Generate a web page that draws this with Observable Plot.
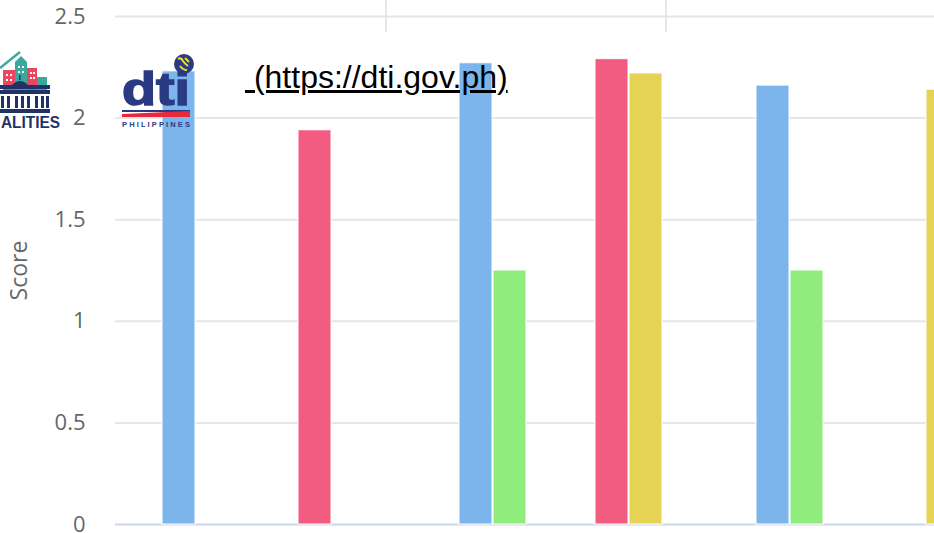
<!DOCTYPE html>
<html>
<head>
<meta charset="utf-8">
<script src="https://cdn.jsdelivr.net/npm/d3@7"></script>
<script src="https://cdn.jsdelivr.net/npm/@observablehq/plot@0.6"></script>
<style>
  html, body { margin: 0; padding: 0; background: #fff; }
  #wrap { position: relative; width: 934px; height: 533px; overflow: hidden; background: #fff; }
  #chart { position: absolute; left: 0; top: 0; width: 1006px; }
  #chart svg { max-width: none !important; }
  .vline { position: absolute; top: 0; width: 2px; height: 32px; background: #e6e6e6; }
  #link { position: absolute; left: 245px; top: 61px; font-family: "Liberation Sans", Arial, sans-serif;
          font-size: 32px; color: #000; text-decoration: underline; white-space: pre; line-height: 1; }
  .overlay { position: absolute; }
</style>
</head>
<body>
<div id="wrap">
  <div id="chart"></div>
  <div class="vline" style="left:385px"></div>
  <div class="vline" style="left:665px"></div>
  <svg class="overlay" style="left:0;top:45px" width="70" height="90" viewBox="0 0 70 90">
    <line x1="0" y1="23" x2="20" y2="7" stroke="#3aa89a" stroke-width="2.5"/>
    <rect x="3" y="25" width="12" height="20" fill="#e8475f"/>
    <rect x="27" y="23" width="10" height="22" fill="#e8475f"/>
    <rect x="15" y="17" width="12" height="28" fill="#3aa89a"/>
    <polygon points="15,17 21,11 27,17" fill="#3aa89a"/>
    <rect x="37" y="32" width="10" height="13" fill="#3aa89a"/>
    <g fill="#fff">
      <rect x="6" y="29" width="2" height="2"/><rect x="10" y="29" width="2" height="2"/>
      <rect x="6" y="34" width="2" height="2"/><rect x="10" y="34" width="2" height="2"/>
      <rect x="18" y="21" width="2" height="2"/><rect x="22" y="21" width="2" height="2"/>
      <rect x="18" y="26" width="2" height="2"/><rect x="22" y="26" width="2" height="2"/>
      <rect x="30" y="27" width="2" height="2"/><rect x="33" y="27" width="2" height="2"/>
      <rect x="30" y="32" width="2" height="2"/><rect x="33" y="32" width="2" height="2"/>
    </g>
    <rect x="0" y="40" width="50" height="4" fill="#1f3466"/>
    <path d="M12 40 Q20 32 28 40 Z" fill="#1f3466"/>
    <rect x="19" y="30" width="1.5" height="5" fill="#1f3466"/>
    <rect x="0" y="45" width="50" height="4" fill="#1f3466"/>
    <g fill="#1f3466">
      <rect x="1" y="51" width="3" height="12"/><rect x="7" y="51" width="3" height="12"/>
      <rect x="15" y="51" width="3" height="12"/><rect x="21" y="51" width="3" height="12"/><rect x="27" y="51" width="3" height="12"/>
      <rect x="35" y="51" width="3" height="12"/><rect x="41" y="51" width="3" height="12"/><rect x="46" y="51" width="3" height="12"/>
    </g>
    <rect x="0" y="64" width="50" height="4" fill="#1f3466"/>
    <text x="1" y="83" font-family="Liberation Sans, Arial, sans-serif" font-weight="bold" font-size="16" fill="#1f3466" textLength="59" lengthAdjust="spacingAndGlyphs">ALITIES</text>
  </svg>
  <svg class="overlay" style="left:118px;top:45px" width="82" height="90" viewBox="0 0 82 90">
    <text x="4" y="60" font-family="Liberation Sans, Arial, sans-serif" font-weight="bold" font-size="46" fill="#2a3b84" textLength="68" lengthAdjust="spacingAndGlyphs" stroke="#2a3b84" stroke-width="1.5">dti</text>
    <rect x="4" y="65" width="68" height="2" fill="#2a3b84"/>
    <polygon points="4,69 72,66 72,72 4,72" fill="#e8283c"/>
    <text x="4" y="82" font-family="Liberation Sans, Arial, sans-serif" font-weight="bold" font-size="7.5" fill="#2a3b84" textLength="68" lengthAdjust="spacing">PHILIPPINES</text>
    <circle cx="66" cy="19" r="10" fill="#2a3b84"/>
    <path d="M60 14 Q63 12 65 16 Q67 19 70 21 M62 21 Q65 25 69 25 M67 13 L71 17" stroke="#f2e018" stroke-width="2" fill="none"/>
  </svg>
  <div id="link"> (https://dti.gov.ph)</div>
</div>
<script>
// Categories (x-axis labels lie below the visible crop)
const categories = ["Category 1", "Category 2", "Category 3"];
const seriesNames = ["Series 1", "Series 2", "Series 3", "Series 4", "Series 5", "Series 6"];
const seriesColors = ["#7cb5ec", "#90ed7d", "#434348", "#f7a35c", "#f15c80", "#e4d354"];

// Score values per series, one entry per category (null = no bar)
const series1 = [2.23, 2.27, 2.16];
const series2 = [null, 1.25, 1.25];
const series3 = [null, null, null];
const series4 = [null, null, null];
const series5 = [1.94, 2.29, null];
const series6 = [null, 2.22, 2.14];

const yTicks = [0, 0.5, 1, 1.5, 2, 2.5];
const yTickLabels = ["0", "0.5", "1", "1.5", "2", "2.5"];

const allSeries = [series1, series2, series3, series4, series5, series6];
const rows = [];
allSeries.forEach((vals, i) => {
  vals.forEach((v, j) => {
    if (v != null) rows.push({category: categories[j], series: seriesNames[i], value: v});
  });
});

const chart = Plot.plot({
  width: 1006,
  height: 600,
  marginLeft: 115,
  marginRight: 0,
  marginTop: 16,
  marginBottom: 76,
  style: {fontFamily: "'Open Sans', sans-serif", background: "transparent", maxWidth: "none"},
  fx: {domain: categories, padding: 0, axis: null},
  x: {domain: seriesNames, paddingInner: 0.04, paddingOuter: 1.336, axis: null},
  y: {domain: [0, 2.5]},
  color: {domain: seriesNames, range: seriesColors},
  marks: [
    Plot.gridY(yTicks.filter(d => d > 0), {stroke: "#e6e6e6", strokeOpacity: 1, strokeWidth: 2}),
    Plot.ruleY([0], {stroke: "#ccd6eb", strokeWidth: 2}),
    Plot.barY(rows, {fx: "category", x: "series", y: "value", fill: "series", stroke: "white", strokeWidth: 1}),
    Plot.axisY(yTicks, {tickSize: 0, tickPadding: 30, fontSize: 22, fill: "#666666",
      tickFormat: (d) => yTickLabels[yTicks.indexOf(d)], label: null}),
    Plot.axisY({ticks: [], label: "Score", labelAnchor: "center", labelArrow: "none",
      labelOffset: 105, fontSize: 23, fill: "#666666"})
  ]
});
chart.style.maxWidth = "none";
chart.style.width = "1006px";
chart.style.height = "600px";
document.getElementById("chart").appendChild(chart);
</script>
</body>
</html>
